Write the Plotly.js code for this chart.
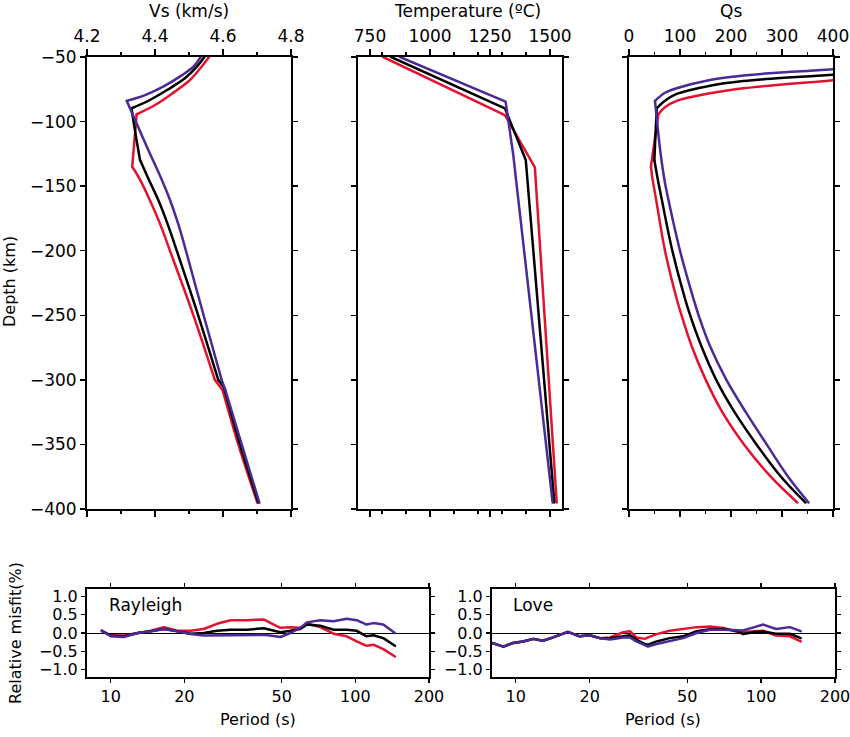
<!DOCTYPE html>
<html>
<head>
<meta charset="utf-8">
<script src="https://cdn.plot.ly/plotly-3.0.1.min.js"></script>
<style>
  html, body { margin: 0; padding: 0; background: #fff; }
  #grafico { width: 850px; height: 737px; }
  .js-line { stroke-linejoin: round; stroke-linecap: round; }
</style>
</head>
<body>
<div id="grafico"></div>
<script>
// perfis de Vs (km/s) x profundidade (km)
const vsRedDepth    = [-50, -57.5, -67.8, -77.6, -87.2, -94.4, -135, -145, -161, -180, -200, -250, -300, -308, -350, -395];
const vsRed         = [4.559, 4.537, 4.503, 4.454, 4.400, 4.346, 4.333, 4.356, 4.385, 4.416, 4.444, 4.513, 4.576, 4.599, 4.645, 4.701];
const vsBlackDepth  = [-50, -57.5, -66.5, -75, -83.3, -89.7, -110, -129.7, -145, -161, -180, -200, -250, -300, -306, -350, -395];
const vsBlack       = [4.545, 4.523, 4.488, 4.439, 4.385, 4.331, 4.343, 4.356, 4.382, 4.410, 4.438, 4.464, 4.527, 4.586, 4.603, 4.650, 4.704];
const vsPurpleDepth = [-50, -57.5, -65, -73, -79.5, -84, -120, -145, -160, -175, -190, -200, -250, -300, -308, -350, -395];
const vsPurple      = [4.534, 4.513, 4.474, 4.424, 4.371, 4.317, 4.377, 4.420, 4.443, 4.463, 4.4805, 4.491, 4.543, 4.596, 4.607, 4.655, 4.707];

// temperatura (ºC)
const tRedDepth    = [-50, -95, -135.5, -395];
const tRed         = [805, 1312, 1437, 1528];
const tBlackDepth  = [-50, -89.7, -129.7, -395];
const tBlack       = [838, 1312, 1399, 1518];
const tPurpleDepth = [-50, -84.6, -126, -395];
const tPurple      = [875, 1315, 1347, 1511];

// Qs
const qRedDepth    = [-67.9, -69.6, -71.7, -74.2, -78.1, -84, -88.9, -94.4, -135, -145, -160, -200, -238, -250, -274, -300, -325, -350, -375, -395];
const qRed         = [400, 355, 290, 224, 159, 93.5, 70.6, 57.5, 43, 46.4, 53, 70.6, 94, 103, 123, 150.5, 183, 225.5, 278, 330];
const qBlackDepth  = [-63.8, -64.9, -66.5, -68.6, -72.2, -78.6, -83.8, -89.7, -129.7, -145, -160, -200, -238, -250, -274, -300, -325, -350, -375, -395];
const qBlack       = [400, 355, 290, 224, 159, 93.5, 70.6, 54.3, 49.7, 56.6, 64.1, 85, 110.5, 120, 142, 171, 207, 250, 298, 346];
const qPurpleDepth = [-59.4, -60.6, -62.1, -64.4, -67.8, -74.2, -77.7, -84, -125, -145, -160, -200, -238, -250, -274, -300, -325, -350, -375, -395];
const qPurple      = [400, 355, 290, 224, 159, 93.5, 70.6, 51, 62, 69.5, 77, 100, 127, 136.5, 159, 191, 229, 270, 312, 352];

// misfit relativo (%) - Rayleigh
const rayPeriod = [9.2, 10, 11.3, 12.9, 14.6, 16.5, 18.7, 21.2, 24.0, 27.2, 30.9, 36.1, 42.2, 46.4, 49.4, 54.2, 59.6, 63.4, 71.8, 81.4, 92.2, 101.3, 111.2, 118.5, 130.1, 145.1];
const rayRed    = [0.06, -0.07, -0.07, 0, 0.06, 0.16, 0.06, 0.06, 0.11, 0.25, 0.35, 0.35, 0.37, 0.23, 0.14, 0.16, 0.14, 0.26, 0.16, -0.02, -0.09, -0.23, -0.35, -0.32, -0.44, -0.64];
const rayBlack  = [0.06, -0.07, -0.09, 0, 0.05, 0.11, 0.05, -0.02, 0, 0.06, 0.09, 0.09, 0.13, 0.06, 0.02, 0.06, 0.11, 0.23, 0.20, 0.09, 0.09, 0.06, -0.09, -0.06, -0.14, -0.35];
const rayPurple = [0.06, -0.09, -0.11, 0, 0.05, 0.11, 0.05, -0.03, -0.07, -0.07, -0.05, -0.07, -0.05, -0.08, -0.11, 0, 0.14, 0.29, 0.35, 0.32, 0.39, 0.35, 0.23, 0.27, 0.23, 0.0];

// misfit relativo (%) - Love
const lovePeriod = [8.0, 8.9, 9.75, 10.7, 11.8, 12.9, 14.2, 15.4, 16.3, 18.2, 20.0, 22.0, 24.2, 27.4, 29.2, 31.0, 32.0, 33.6, 34.6, 37.5, 42.4, 48.1, 54.6, 61.9, 70.2, 79.6, 84.4, 94, 102, 115, 131, 145];
const loveRed    = [-0.27, -0.37, -0.27, -0.23, -0.16, -0.21, -0.12, -0.03, 0.03, -0.09, -0.06, -0.14, -0.12, 0.02, 0.05, -0.12, -0.14, -0.16, -0.12, -0.03, 0.06, 0.11, 0.16, 0.18, 0.14, 0.03, 0.02, 0.05, 0.06, -0.07, -0.09, -0.23];
const loveBlack  = [-0.27, -0.37, -0.27, -0.23, -0.16, -0.21, -0.12, -0.03, 0.03, -0.09, -0.06, -0.14, -0.14, -0.09, -0.06, -0.18, -0.23, -0.30, -0.32, -0.23, -0.14, -0.09, 0.05, 0.10, 0.11, 0.06, -0.03, 0.03, 0.04, -0.02, -0.02, -0.14];
const lovePurple = [-0.27, -0.37, -0.27, -0.23, -0.16, -0.21, -0.12, -0.03, 0.03, -0.09, -0.06, -0.14, -0.18, -0.12, -0.12, -0.23, -0.27, -0.34, -0.37, -0.30, -0.23, -0.14, 0, 0.09, 0.09, 0.08, 0.07, 0.16, 0.23, 0.11, 0.16, 0.05];

const RED = '#e3122f', BLACK = '#000000', PURPLE = '#4a2a96';
const FONT = 'DejaVu Sans, sans-serif';

// pixel -> fração do papel (850x737, sem margens)
const W = 850, H = 737;
const px = x => x / W;
const py = y => 1 - y / H;

function linha(x, y, cor, xa, ya, forma) {
	return {x: x, y: y, xaxis: xa, yaxis: ya, mode: 'lines', type: 'scatter',
		line: {color: cor, width: 2.5, shape: forma || 'linear', smoothing: 1},
		hoverinfo: 'skip', showlegend: false};
}

// curva suave entre os "cantos" (indices em quebras), cantos continuam vivos
function curva(x, y, quebras, cor, xa, ya) {
	const idx = [0].concat(quebras, [x.length - 1]);
	const out = [];
	for (let i = 0; i < idx.length - 1; i++) {
		const a = idx[i], b = idx[i + 1];
		out.push(linha(x.slice(a, b + 1), y.slice(a, b + 1), cor, xa, ya, 'spline'));
	}
	return out;
}

const data = [].concat(
	curva(vsRed, vsRedDepth, [5, 6, 12, 13], RED, 'x', 'y'),
	curva(vsBlack, vsBlackDepth, [5, 7, 13, 14], BLACK, 'x', 'y'),
	curva(vsPurple, vsPurpleDepth, [5, 13, 14], PURPLE, 'x', 'y'),
	[linha(tRed, tRedDepth, RED, 'x2', 'y2'),
	 linha(tBlack, tBlackDepth, BLACK, 'x2', 'y2'),
	 linha(tPurple, tPurpleDepth, PURPLE, 'x2', 'y2')],
	curva(qRed, qRedDepth, [7, 8], RED, 'x3', 'y3'),
	curva(qBlack, qBlackDepth, [7, 8], BLACK, 'x3', 'y3'),
	curva(qPurple, qPurpleDepth, [7], PURPLE, 'x3', 'y3'),
	[linha(rayPeriod, rayRed, RED, 'x4', 'y4'),
	 linha(rayPeriod, rayBlack, BLACK, 'x4', 'y4'),
	 linha(rayPeriod, rayPurple, PURPLE, 'x4', 'y4'),
	 linha(lovePeriod, loveRed, RED, 'x5', 'y5'),
	 linha(lovePeriod, loveBlack, BLACK, 'x5', 'y5'),
	 linha(lovePeriod, lovePurple, PURPLE, 'x5', 'y5')]
);

// eixo base (moldura preta com ticks dos dois lados)
function eixo(extra) {
	return Object.assign({
		showline: true, linecolor: '#000', linewidth: 2, mirror: 'ticks',
		ticks: 'outside', ticklen: 6, tickwidth: 1.3, tickcolor: '#000',
		showgrid: false, zeroline: false, fixedrange: true,
		ticklabeloverflow: 'allow',
		tickfont: {family: FONT, size: 17, color: '#000'}
	}, extra);
}

const topY = [py(509), py(57)];
const botY = [py(677), py(589)];
const depthAxis = {range: [-400, -50], dtick: 50, ticklen: 5};
const misfitAxis = {range: [-1.2, 1.2], tickvals: [-1, -0.5, 0, 0.5, 1], tickformat: '.1f', ticklen: 4,
	zeroline: true, zerolinecolor: '#000', zerolinewidth: 1,
	tickfont: {family: FONT, size: 16, color: '#000'}};
const periodAxis = {type: 'log', range: [Math.log10(8), Math.log10(200)], tickvals: [10, 20, 50, 100, 200],
	ticktext: ['10', '20', '50', '100', '200'], ticklen: 4,
	tickfont: {family: FONT, size: 16, color: '#000'}};
const minorTick = {ticklen: 3, tickcolor: '#000', showgrid: false};

const layout = {
	width: W, height: H,
	margin: {l: 0, r: 0, t: 0, b: 0},
	paper_bgcolor: '#fff', plot_bgcolor: '#fff',
	showlegend: false,
	xaxis:  eixo({domain: [px(87), px(291)], anchor: 'y', side: 'top', range: [4.2, 4.8], dtick: 0.2, tickformat: '.1f',
		minor: Object.assign({dtick: 0.1}, minorTick)}),
	yaxis:  eixo(Object.assign({domain: topY, anchor: 'x'}, depthAxis)),
	xaxis2: eixo({domain: [px(358), px(562)], anchor: 'y2', side: 'top', range: [700, 1550], tickvals: [750, 1000, 1250, 1500],
		minor: Object.assign({tickvals: [800, 900, 1100, 1200, 1300, 1400]}, minorTick)}),
	yaxis2: eixo(Object.assign({domain: topY, anchor: 'x2', showticklabels: false}, depthAxis)),
	xaxis3: eixo({domain: [px(629), px(833)], anchor: 'y3', side: 'top', range: [0, 400], dtick: 100,
		minor: Object.assign({dtick: 50}, minorTick)}),
	yaxis3: eixo(Object.assign({domain: topY, anchor: 'x3', showticklabels: false}, depthAxis)),
	xaxis4: eixo(Object.assign({domain: [px(87), px(429)], anchor: 'y4'}, periodAxis)),
	yaxis4: eixo(Object.assign({domain: botY, anchor: 'x4'}, misfitAxis)),
	xaxis5: eixo(Object.assign({domain: [px(492), px(835)], anchor: 'y5'}, periodAxis)),
	yaxis5: eixo(Object.assign({domain: botY, anchor: 'x5'}, misfitAxis)),
	annotations: [
		{text: 'Vs (km/s)', x: px(189), y: py(11)},
		{text: 'Temperature (ºC)', x: px(467), y: py(11)},
		{text: 'Qs', x: px(731), y: py(11)},
		{text: 'Depth (km)', x: px(9), y: py(282), textangle: -90, size: 16},
		{text: 'Relative misfit(%)', x: px(15), y: py(633), textangle: -90, size: 16},
		{text: 'Period (s)', x: px(258), y: py(719), size: 16},
		{text: 'Period (s)', x: px(663), y: py(719), size: 16},
		{text: 'Rayleigh', x: px(107), y: py(605), xanchor: 'left', size: 17},
		{text: 'Love', x: px(511), y: py(605), xanchor: 'left', size: 17}
	].map(a => ({
		text: a.text, x: a.x, y: a.y, xref: 'paper', yref: 'paper',
		xanchor: a.xanchor || 'center', yanchor: 'middle', showarrow: false,
		textangle: a.textangle || 0,
		font: {family: FONT, size: a.size || 17, color: '#000'}
	}))
};

Plotly.newPlot('grafico', data, layout, {staticPlot: true, displayModeBar: false});
</script>
</body>
</html>
